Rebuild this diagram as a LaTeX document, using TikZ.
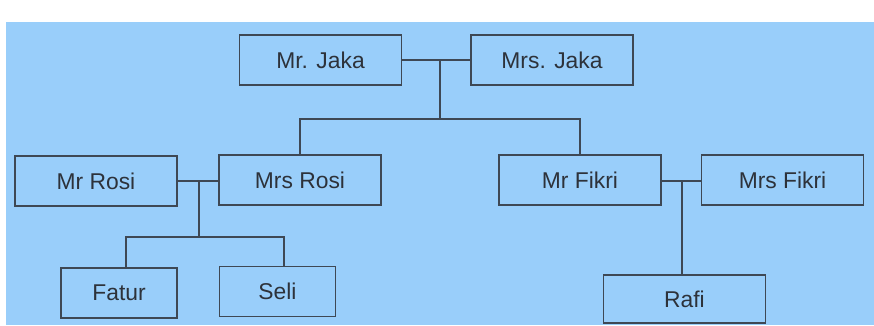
\documentclass[tikz,border=0pt]{standalone}
\usepackage{fontspec}
\setmainfont{Liberation Sans}
\definecolor{skyblue}{RGB}{153,206,250}
\definecolor{linegray}{RGB}{62,72,84}
\definecolor{textgray}{RGB}{45,50,58}

\begin{document}
\begin{tikzpicture}[x=0.02cm,y=-0.02cm,
  person/.style={draw=linegray,line width=0.6pt,minimum width=3.24cm,minimum height=1cm,
    inner sep=0pt,text=textgray,font=\fontsize{13}{15}\selectfont},
  child/.style={person,minimum width=2.32cm},
  tie/.style={draw=linegray,line width=0.6pt}]
\useasboundingbox (0,0) rectangle (874,325);
\fill[skyblue] (6,22) rectangle (874,325);
% first generation
\node[person] (jaka) at (320.5,60) {Mr. Jaka};
\node[person] (mrsjaka) at (552,60) {Mrs. Jaka};
% second generation
\node[person] (rosi) at (96,181) {Mr Rosi};
\node[person] (mrsrosi) at (300,180) {Mrs Rosi};
\node[person] (fikri) at (580,180) {Mr Fikri};
\node[person] (mrsfikri) at (782.5,180) {Mrs Fikri};
% third generation
\node[child] (fatur) at (119,293) {Fatur};
\node[child] (seli) at (277.5,291.5) {Seli};
\node[person,minimum height=0.96cm] (rafi) at (684.5,299) {Rafi};
% lines
\coordinate (jk) at (440,60);
\coordinate (jkkids) at (440,119);
\draw[tie] (jaka.east) -- (mrsjaka.west);
\draw[tie] (jk) -- (jkkids);
\draw[tie] (mrsrosi.north) |- (jkkids) -| (fikri.north);
\coordinate (rs) at (199,181);
\coordinate (rskids) at (199,237);
\draw[tie,line width=0.9pt] (rosi.east) -- (rs -| mrsrosi.west);
\draw[tie] (rs) -- (rskids);
\draw[tie] ([xshift=0.14cm]fatur.north) |- (rskids) -| ([xshift=0.13cm]seli.north);
\coordinate (fk) at (682,181);
\draw[tie] (fikri.east |- fk) -- (mrsfikri.west |- fk);
\draw[tie] (fk) -- (fk |- rafi.north);
\end{tikzpicture}
\end{document}
